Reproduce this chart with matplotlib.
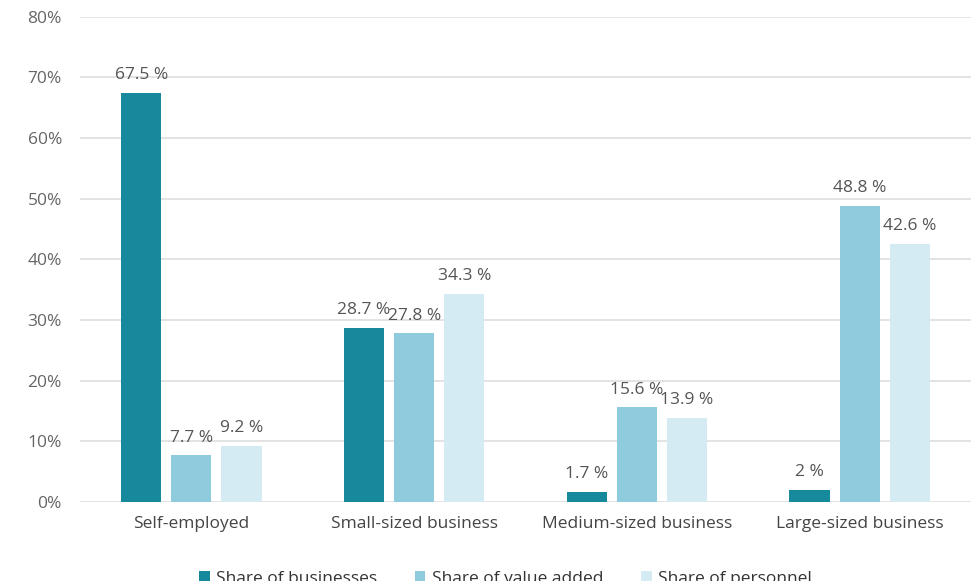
import matplotlib
matplotlib.use("Agg")
import matplotlib.pyplot as plt
import numpy as np

categories = ["Self-employed", "Small-sized business", "Medium-sized business", "Large-sized business"]
share_businesses = [67.5, 28.7, 1.7, 2.0]
share_value_added = [7.7, 27.8, 15.6, 48.8]
share_personnel = [9.2, 34.3, 13.9, 42.6]
series_names = ["Share of businesses", "Share of value added", "Share of personnel"]
y_ticks = [0, 10, 20, 30, 40, 50, 60, 70, 80]

colors = ["#17899c", "#8dcbdd", "#d5ebf3"]
value_color = "#555555"
tick_color = "#666666"

plt.rcParams["font.family"] = ["Open Sans", "DejaVu Sans"]

fig = plt.figure(figsize=(9.72, 5.81), dpi=100)
ax = fig.add_axes([80 / 972, 0.136, 891 / 972, 0.835])

x = np.arange(len(categories))
width = 0.18
step = 0.225
series = [share_businesses, share_value_added, share_personnel]

def fmt(v):
    return f"{v:g} %"

for i, (vals, col, name) in enumerate(zip(series, colors, series_names)):
    pos = x + (i - 1) * step
    bars = ax.bar(pos, vals, width=width, color=col, label=name, zorder=3)
    for b, v in zip(bars, vals):
        ax.annotate(fmt(v), (b.get_x() + b.get_width() / 2, v),
                    xytext=(0, 7), textcoords="offset points",
                    ha="center", va="bottom", fontsize=12.5, color=value_color, zorder=4)

ax.set_xlim(-0.5, len(categories) - 0.5)
ax.set_ylim(0, 80)
ax.set_yticks(y_ticks)
ax.set_yticklabels([f"{t}%" for t in y_ticks])
ax.set_xticks(x)
ax.set_xticklabels(categories)
ax.grid(axis="y", color="#dedede", linewidth=1.2, zorder=0)
ax.tick_params(axis="both", length=0, colors=tick_color, labelsize=12.5)
ax.tick_params(axis="y", pad=13)
ax.tick_params(axis="x", pad=10, labelcolor="#444444")
for s in ax.spines.values():
    s.set_visible(False)

fig.legend(loc="center", bbox_to_anchor=(0.520, 0.004), ncol=3, frameon=False,
           fontsize=12.5, handlelength=0.6, handleheight=0.6, handletextpad=0.35,
           columnspacing=2.2, labelcolor="#333333")

fig.savefig("out.png", dpi=100, facecolor="white")
